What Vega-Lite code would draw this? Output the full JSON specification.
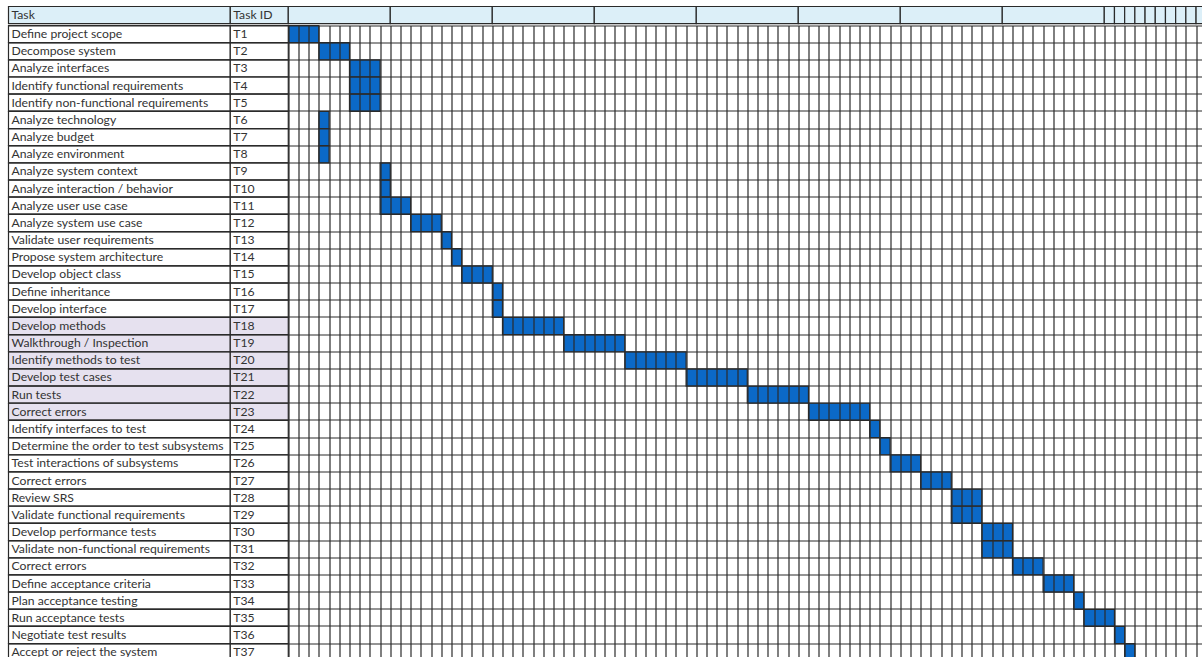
{
  "$schema": "https://vega.github.io/schema/vega-lite/v6.json",
  "background": "white",
  "padding": {"left": 7.5, "top": 5.5, "right": 0, "bottom": 0},
  "spacing": 0,
  "config": {
    "view": {"stroke": null},
    "axis": {"minExtent": 0, "labels": false, "ticks": false, "domain": false, "title": null},
    "text": {"font": "Lato", "fontSize": 12.2, "color": "#333333"}
  },
  "datasets": {
    "header": [
      {"label": "Task", "lo": -27.43, "hi": -5.686},
      {"label": "Task ID", "lo": -5.686, "hi": 0},
      {"label": "", "lo": 0, "hi": 10},
      {"label": "", "lo": 10, "hi": 20},
      {"label": "", "lo": 20, "hi": 30},
      {"label": "", "lo": 30, "hi": 40},
      {"label": "", "lo": 40, "hi": 50},
      {"label": "", "lo": 50, "hi": 60},
      {"label": "", "lo": 60, "hi": 70},
      {"label": "", "lo": 70, "hi": 80},
      {"label": "", "lo": 80, "hi": 81},
      {"label": "", "lo": 81, "hi": 82},
      {"label": "", "lo": 82, "hi": 83},
      {"label": "", "lo": 83, "hi": 84},
      {"label": "", "lo": 84, "hi": 85},
      {"label": "", "lo": 85, "hi": 86},
      {"label": "", "lo": 86, "hi": 87},
      {"label": "", "lo": 87, "hi": 88},
      {"label": "", "lo": 88, "hi": 89},
      {"label": "", "lo": 89, "hi": 90}
    ],
    "tasks": [
      {"row": 1, "task": "Define project scope", "id": "T1", "start": 0, "end": 3},
      {"row": 2, "task": "Decompose system", "id": "T2", "start": 3, "end": 6},
      {"row": 3, "task": "Analyze interfaces", "id": "T3", "start": 6, "end": 9},
      {"row": 4, "task": "Identify functional requirements", "id": "T4", "start": 6, "end": 9},
      {"row": 5, "task": "Identify non-functional requirements", "id": "T5", "start": 6, "end": 9},
      {"row": 6, "task": "Analyze technology", "id": "T6", "start": 3, "end": 4},
      {"row": 7, "task": "Analyze budget", "id": "T7", "start": 3, "end": 4},
      {"row": 8, "task": "Analyze environment", "id": "T8", "start": 3, "end": 4},
      {"row": 9, "task": "Analyze system context", "id": "T9", "start": 9, "end": 10},
      {"row": 10, "task": "Analyze interaction / behavior", "id": "T10", "start": 9, "end": 10},
      {"row": 11, "task": "Analyze user use case", "id": "T11", "start": 9, "end": 12},
      {"row": 12, "task": "Analyze system use case", "id": "T12", "start": 12, "end": 15},
      {"row": 13, "task": "Validate user requirements", "id": "T13", "start": 15, "end": 16},
      {"row": 14, "task": "Propose system architecture", "id": "T14", "start": 16, "end": 17},
      {"row": 15, "task": "Develop object class", "id": "T15", "start": 17, "end": 20},
      {"row": 16, "task": "Define inheritance", "id": "T16", "start": 20, "end": 21},
      {"row": 17, "task": "Develop interface", "id": "T17", "start": 20, "end": 21},
      {"row": 18, "task": "Develop methods", "id": "T18", "start": 21, "end": 27},
      {"row": 19, "task": "Walkthrough / Inspection", "id": "T19", "start": 27, "end": 33},
      {"row": 20, "task": "Identify methods to test", "id": "T20", "start": 33, "end": 39},
      {"row": 21, "task": "Develop test cases", "id": "T21", "start": 39, "end": 45},
      {"row": 22, "task": "Run tests", "id": "T22", "start": 45, "end": 51},
      {"row": 23, "task": "Correct errors", "id": "T23", "start": 51, "end": 57},
      {"row": 24, "task": "Identify interfaces to test", "id": "T24", "start": 57, "end": 58},
      {"row": 25, "task": "Determine the order to test subsystems", "id": "T25", "start": 58, "end": 59},
      {"row": 26, "task": "Test interactions of subsystems", "id": "T26", "start": 59, "end": 62},
      {"row": 27, "task": "Correct errors", "id": "T27", "start": 62, "end": 65},
      {"row": 28, "task": "Review SRS", "id": "T28", "start": 65, "end": 68},
      {"row": 29, "task": "Validate functional requirements", "id": "T29", "start": 65, "end": 68},
      {"row": 30, "task": "Develop performance tests", "id": "T30", "start": 68, "end": 71},
      {"row": 31, "task": "Validate non-functional requirements", "id": "T31", "start": 68, "end": 71},
      {"row": 32, "task": "Correct errors", "id": "T32", "start": 71, "end": 74},
      {"row": 33, "task": "Define acceptance criteria", "id": "T33", "start": 74, "end": 77},
      {"row": 34, "task": "Plan acceptance testing", "id": "T34", "start": 77, "end": 78},
      {"row": 35, "task": "Run acceptance tests", "id": "T35", "start": 78, "end": 81},
      {"row": 36, "task": "Negotiate test results", "id": "T36", "start": 81, "end": 82},
      {"row": 37, "task": "Accept or reject the system", "id": "T37", "start": 82, "end": 83}
    ]
  },
  "resolve": {"scale": {"x": "independent", "y": "independent"}},
  "vconcat": [
    {
      "width": 1194.5,
      "height": 17.17,
      "data": {"name": "header"},
      "layer": [
        {
          "mark": {"type": "rect", "fill": "#dceff8", "stroke": "#2a2a2a", "strokeWidth": 1.2},
          "encoding": {
            "x": {"field": "lo", "type": "quantitative", "scale": {"domain": [-27.43, 89.68], "nice": false, "zero": false}, "axis": null},
            "x2": {"field": "hi"},
            "y": {"datum": 0, "type": "quantitative", "scale": {"domain": [0, 1], "nice": false}, "axis": null},
            "y2": {"datum": 1}
          }
        },
        {
          "mark": {"type": "text", "align": "left", "baseline": "middle", "dx": 3},
          "encoding": {
            "x": {"field": "lo", "type": "quantitative", "axis": null},
            "y": {"datum": 0.5, "type": "quantitative", "axis": null},
            "text": {"field": "label"}
          }
        }
      ]
    },
    {
      "width": 1194.5,
      "height": 635.3,
      "data": {"name": "tasks"},
      "encoding": {
        "y": {
          "field": "id",
          "type": "nominal",
          "sort": {"field": "row", "op": "min"},
          "scale": {"paddingInner": 0, "paddingOuter": 0},
          "axis": {"grid": true, "bandPosition": 0, "gridColor": "#2a2a2a", "gridWidth": 1.2, "gridOpacity": 1}
        },
        "x": {
          "field": "start",
          "type": "quantitative",
          "scale": {"domain": [-27.43, 89.68], "nice": false, "zero": false},
          "axis": {
            "grid": true,
            "zindex": 1,
            "gridColor": "#2a2a2a",
            "gridWidth": 1.2,
            "gridOpacity": 1,
            "values": [0,1,2,3,4,5,6,7,8,9,10,11,12,13,14,15,16,17,18,19,20,21,22,23,24,25,26,27,28,29,30,31,32,33,34,35,36,37,38,39,40,41,42,43,44,45,46,47,48,49,50,51,52,53,54,55,56,57,58,59,60,61,62,63,64,65,66,67,68,69,70,71,72,73,74,75,76,77,78,79,80,81,82,83,84,85,86,87,88,89]
          }
        }
      },
      "layer": [
        {
          "mark": {"type": "rect", "fill": "#0b69c7", "stroke": "#2a2a2a", "strokeWidth": 1.2},
          "encoding": {
            "x2": {"field": "end"}
          }
        },
        {
          "mark": {"type": "rect", "stroke": "#2a2a2a", "strokeWidth": 1.2},
          "encoding": {
            "x": {"datum": -27.43, "type": "quantitative"},
            "x2": {"datum": -5.686},
            "fill": {"condition": {"test": "datum.row >= 18 && datum.row <= 23", "value": "#e6e1ef"}, "value": "white"}
          }
        },
        {
          "mark": {"type": "rect", "stroke": "#2a2a2a", "strokeWidth": 1.2},
          "encoding": {
            "x": {"datum": -5.686, "type": "quantitative"},
            "x2": {"datum": 0},
            "fill": {"condition": {"test": "datum.row >= 18 && datum.row <= 23", "value": "#e6e1ef"}, "value": "white"}
          }
        },
        {
          "mark": {"type": "text", "align": "left", "baseline": "middle", "dx": 3},
          "encoding": {
            "x": {"datum": -27.43, "type": "quantitative"},
            "text": {"field": "task"}
          }
        },
        {
          "mark": {"type": "text", "align": "left", "baseline": "middle", "dx": 3},
          "encoding": {
            "x": {"datum": -5.686, "type": "quantitative"},
            "text": {"field": "id"}
          }
        }
      ]
    }
  ]
}
